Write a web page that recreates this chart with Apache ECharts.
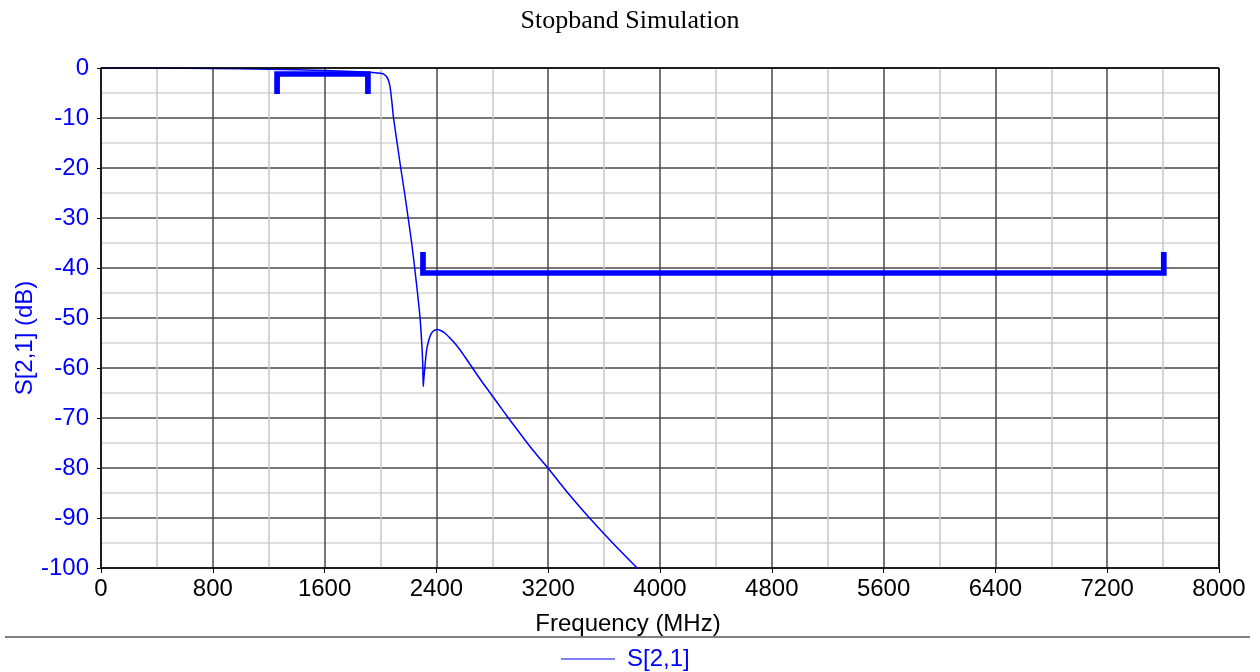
<!DOCTYPE html>
<html>
<head>
<meta charset="utf-8">
<script src="https://cdn.jsdelivr.net/npm/echarts@6/dist/echarts.min.js"></script>
<style>html,body{margin:0;padding:0;background:#fff;}#c{width:1260px;height:672px;}</style>
</head>
<body>
<div id="c"></div>
<script>
// Data
const freqMHz = [0, 400, 800, 1200, 1600, 1800, 1900, 1960, 1997, 2020, 2032, 2045, 2056, 2068, 2080, 2092, 2120, 2147, 2175, 2199, 2225, 2247, 2265, 2283, 2295, 2302, 2306, 2310, 2318, 2330, 2342, 2354, 2366, 2378, 2392, 2408, 2430, 2460, 2500, 2533, 2570, 2600, 2656, 2720, 2780, 2850, 2907, 2980, 3050, 3125, 3201, 3350, 3499, 3665, 3840, 3920];
const s21dB   = [0, -0.02, -0.08, -0.25, -0.5, -0.7, -0.85, -0.95, -1.07, -1.2, -1.4, -1.8, -2.4, -3.7, -6.4, -9.7, -15.2, -20.4, -25.5, -30.2, -35.4, -40.6, -45, -50, -55, -59, -63.7, -62.2, -59.7, -56.4, -54.8, -53.7, -53.0, -52.6, -52.4, -52.3, -52.5, -53.0, -54.1, -55.1, -56.4, -57.6, -59.9, -62.5, -64.8, -67.5, -69.7, -72.4, -75.0, -77.6, -80.1, -85.3, -90.1, -95.1, -100.1, -102.3];
const passMaskF = [1260, 1260, 1910, 1910];
const passMaskV = [-5.2, -1.2, -1.2, -5.2];
const stopMaskF = [2304, 2304, 7605, 7605];
const stopMaskV = [-36.8, -41, -41, -36.8];
const xTicks = [0, 800, 1600, 2400, 3200, 4000, 4800, 5600, 6400, 7200, 8000];
const yTicks = [0, -10, -20, -30, -40, -50, -60, -70, -80, -90, -100];

const zip = (a, b) => a.map((v, i) => [v, b[i]]);
const blue = '#0000ff';
const font = 'Liberation Sans, Arial, sans-serif';

const chart = echarts.init(document.getElementById('c'));
chart.setOption({
  animation: false,
  backgroundColor: '#fff',
  title: {
    text: 'Stopband Simulation',
    left: 'center', top: 3,
    textStyle: { fontFamily: 'Liberation Serif, Times New Roman, serif', fontWeight: 'normal', fontSize: 26, color: '#000' }
  },
  grid: { left: 101, right: 41, top: 68, bottom: 104, containLabel: false, show: false },
  legend: {
    data: ['S[2,1]'],
    left: 561, top: 647, padding: 0,
    itemWidth: 54, itemHeight: 14,
    textStyle: { color: blue, fontSize: 24, fontFamily: font, padding: [0, 0, 0, 7] },
    icon: 'path://M0,7 L54,7 L54,8 L0,8 Z'
  },
  graphic: [{
    type: 'line', shape: { x1: 5, y1: 637, x2: 1250, y2: 637 },
    style: { stroke: '#808080', lineWidth: 2 }
  }, {
    type: 'line', shape: { x1: 101, y1: 68, x2: 1219, y2: 68 },
    style: { stroke: '#000', lineWidth: 1.5 }, z: 10
  }, {
    type: 'line', shape: { x1: 1219, y1: 68, x2: 1219, y2: 568 },
    style: { stroke: '#000', lineWidth: 1.5 }, z: 10
  }],
  xAxis: {
    type: 'value', min: xTicks[0], max: xTicks[xTicks.length - 1], interval: 800,
    name: 'Frequency (MHz)', nameLocation: 'middle', nameGap: 44, nameMoveOverlap: false,
    nameTextStyle: { color: '#000', fontSize: 24, fontFamily: font, padding: [0, 64, 0, 0] },
    axisLine: { show: true, onZero: false, lineStyle: { color: '#000', width: 1.5 } },
    axisTick: { show: true, length: 5, lineStyle: { color: '#000' } },
    axisLabel: { color: '#000', fontSize: 24, fontFamily: font, margin: 9, formatter: v => String(v) },
    splitLine: { show: true, lineStyle: { color: '#4a4a4a', width: 1.5 } },
    minorTick: { show: false, splitNumber: 2 },
    minorSplitLine: { show: true, lineStyle: { color: '#c8c8c8', width: 1.5 } }
  },
  yAxis: {
    type: 'value', min: yTicks[yTicks.length - 1], max: yTicks[0], interval: 10,
    name: 'S[2,1] (dB)', nameLocation: 'middle', nameGap: 64, nameRotate: 90, nameMoveOverlap: false,
    nameTextStyle: { color: blue, fontSize: 24, fontFamily: font, padding: [0, 40, 0, 0] },
    axisLine: { show: true, onZero: false, lineStyle: { color: '#000', width: 1.5 } },
    axisTick: { show: true, length: 4, lineStyle: { color: '#000' } },
    axisLabel: { color: blue, fontSize: 24, fontFamily: font, margin: 12 },
    splitLine: { show: true, lineStyle: { color: '#4a4a4a', width: 1.5 } },
    minorTick: { show: false, splitNumber: 2 },
    minorSplitLine: { show: true, lineStyle: { color: '#d4d4d4', width: 1.5 } }
  },
  series: [{
    name: 'S[2,1]', type: 'line', data: zip(freqMHz, s21dB),
    showSymbol: false, symbol: 'none', smooth: 0.25, clip: true,
    lineStyle: { color: blue, width: 1.5 }, itemStyle: { color: blue }, z: 5
  }, {
    name: 'passMask', type: 'line', data: zip(passMaskF, passMaskV),
    showSymbol: false, symbol: 'none',
    lineStyle: { color: blue, width: 5.7, join: 'miter', cap: 'butt' }, z: 4
  }, {
    name: 'stopMask', type: 'line', data: zip(stopMaskF, stopMaskV),
    showSymbol: false, symbol: 'none',
    lineStyle: { color: blue, width: 5.7, join: 'miter', cap: 'butt' }, z: 4
  }]
});
</script>
</body>
</html>
